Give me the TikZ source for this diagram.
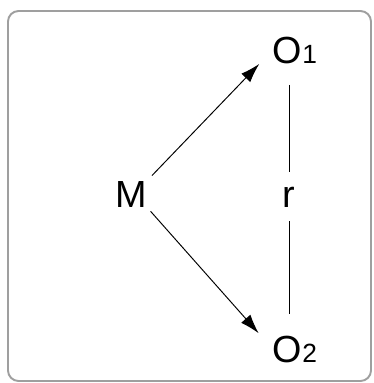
\documentclass[tikz,border=0pt]{standalone}
\usepackage{fontspec}
\setmainfont{Liberation Sans}
\usetikzlibrary{arrows.meta,positioning}

\begin{document}
\begin{tikzpicture}[
    x=0.02cm, y=-0.02cm,
    font=\fontsize{21.5}{24}\selectfont,
    lbl/.style={inner sep=0pt, anchor=base},
    arr/.style={-{Latex[length=11pt,width=7pt]}, line width=0.55pt},
    link/.style={line width=0.55pt},
    frame/.style={draw=gray!75, line width=1.1pt, rounded corners=6pt}
  ]
    \useasboundingbox (0,0) rectangle (373,383);
    % --- marco ---
    \draw[frame] (8,11) rectangle (371,381);

    % --- nodos ---
    \node[lbl] (M) at (131,207) {M};
    \node[lbl] (O1) at (295,63) {O{\fontsize{15}{16}\selectfont 1}};
    \node[lbl] (O2) at (295,362) {O{\fontsize{15}{16}\selectfont 2}};
    \node[lbl] (r) at (289,207) {r};

    % --- flechas ---
    \draw[arr, shorten <=4pt, shorten >=11pt] (M.north east) -- (O1.west);
    \draw[arr, shorten <=3pt, shorten >=12pt] (M.south east) -- (O2.west);
    \draw[link] ([yshift=-12pt]O1.south -| r.north) -- ([yshift=8pt]r.north);
    \draw[link] ([yshift=-8pt]r.south) -- ([yshift=12pt]O2.north -| r.south);
\end{tikzpicture}
\end{document}
